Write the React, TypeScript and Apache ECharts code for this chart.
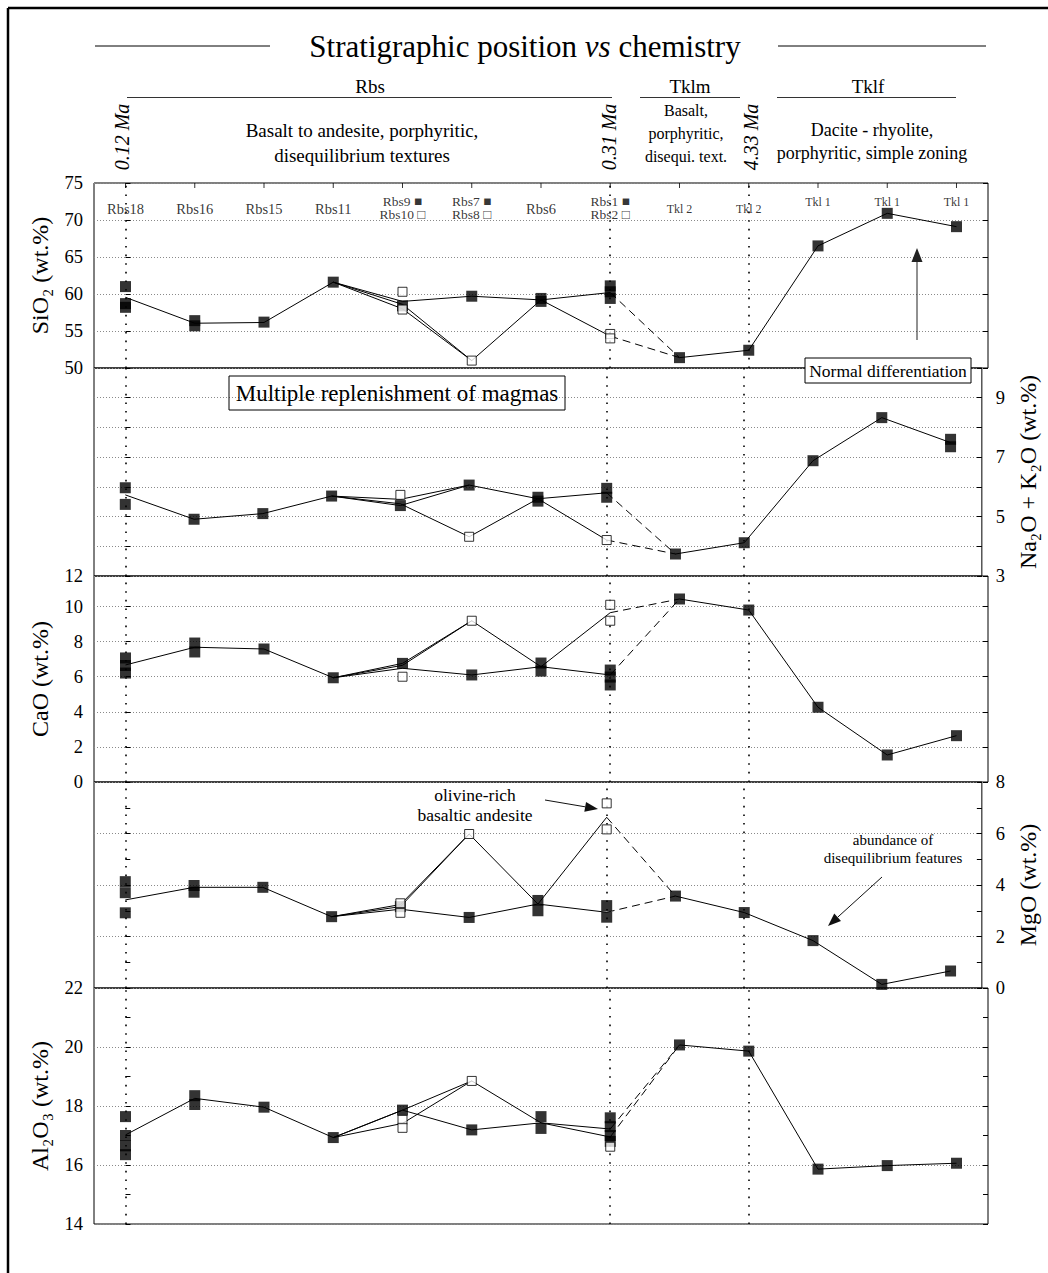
import React, { useEffect, useRef } from 'react';
import * as echarts from 'echarts';

// ---------- categories (stratigraphic order) ----------
const categories = ['Rbs18', 'Rbs16', 'Rbs15', 'Rbs11', 'Rbs9 ■\nRbs10 □', 'Rbs7 ■\nRbs8 □', 'Rbs6', 'Rbs1 ■\nRbs2 □', 'Tkl 2', 'Tkl 2', 'Tkl 1', 'Tkl 1', 'Tkl 1'];
const ageLineIdx = [0, 7, 9];

// ---------- SiO2 ----------
const sio2Filled = [[0, 61.0], [0, 58.7], [0, 58.2], [1, 56.4], [1, 55.7], [2, 56.2], [3, 61.6], [4, 58.4], [5, 59.7], [6, 59.4], [6, 59.0], [7, 61.1], [7, 60.3], [7, 59.4], [8, 51.4], [9, 52.4], [10, 66.5], [11, 70.9], [12, 69.1]];
const sio2Open = [[4, 60.3], [4, 57.9], [5, 51.0], [7, 54.6], [7, 54.0]];
const sio2Main = [[0, 59.55], [1, 56.05], [2, 56.15], [3, 61.6], [4, 59.0], [5, 59.7], [6, 59.2], [7, 60.2]];
const sio2Alt = [[3, 61.6], [4, 58.0], [5, 51.0], [6, 59.2], [7, 54.3]];
const sio2Cross = [[3, 61.6], [4, 58.6], [5, 51.0]];
const sio2Tkl = [[8, 51.4], [9, 52.4], [10, 66.5], [11, 70.9], [12, 69.1]];

// ---------- Na2O + K2O ----------
const alkFilled = [[0, 5.97], [0, 5.41], [1, 4.91], [2, 5.1], [3, 5.69], [4, 5.37], [5, 6.06], [6, 5.65], [6, 5.52], [7, 5.95], [7, 5.65], [8, 3.74], [9, 4.12], [10, 6.88], [11, 8.33], [12, 7.6], [12, 7.35]];
const alkOpen = [[4, 5.73], [5, 4.32], [7, 4.21]];
const alkMain = [[0, 5.73], [1, 4.91], [2, 5.1], [3, 5.69], [4, 5.58], [5, 6.06], [6, 5.6], [7, 5.8]];
const alkAlt = [[3, 5.69], [4, 5.43], [5, 4.32], [6, 5.6], [7, 4.21]];
const alkCross = [[3, 5.69], [4, 5.37], [5, 6.06]];
const alkTkl = [[8, 3.74], [9, 4.12], [10, 6.88], [11, 8.33], [12, 7.49]];

// ---------- CaO ----------
const caoFilled = [[0, 7.07], [0, 6.64], [0, 6.21], [1, 7.92], [1, 7.41], [2, 7.58], [3, 5.94], [4, 6.76], [5, 6.1], [6, 6.78], [6, 6.32], [7, 6.38], [7, 5.98], [7, 5.53], [8, 10.43], [9, 9.8], [10, 4.26], [11, 1.54], [12, 2.64]];
const caoOpen = [[4, 6.0], [5, 9.19], [7, 10.1], [7, 9.19]];
const caoMain = [[0, 6.67], [1, 7.68], [2, 7.58], [3, 5.94], [4, 6.48], [5, 6.1], [6, 6.57], [7, 6.1]];
const caoAlt = [[3, 5.94], [4, 6.65], [5, 9.19], [6, 6.57], [7, 9.65]];
const caoCross = [[3, 5.94], [4, 6.76], [5, 9.19]];
const caoTkl = [[8, 10.43], [9, 9.8], [10, 4.26], [11, 1.54], [12, 2.64]];

// ---------- MgO ----------
const mgoFilled = [[0, 4.13], [0, 3.7], [0, 2.92], [1, 3.98], [1, 3.72], [2, 3.91], [3, 2.77], [4, 3.16], [5, 2.74], [6, 3.4], [6, 3.0], [7, 3.2], [7, 2.75], [8, 3.57], [9, 2.93], [10, 1.84], [11, 0.14], [12, 0.66]];
const mgoOpen = [[4, 3.29], [4, 2.92], [5, 5.98], [7, 7.17], [7, 6.16]];
const mgoMain = [[0, 3.42], [1, 3.91], [2, 3.91], [3, 2.77], [4, 3.06], [5, 2.74], [6, 3.26], [7, 2.94]];
const mgoAlt = [[3, 2.77], [4, 3.16], [5, 5.98], [6, 3.26], [7, 6.63]];
const mgoCross = [[3, 2.77], [4, 3.24], [5, 5.98]];
const mgoTkl = [[8, 3.57], [9, 2.93], [10, 1.84], [11, 0.14], [12, 0.66]];

// ---------- Al2O3 ----------
const alFilled = [[0, 17.64], [0, 17.0], [0, 16.65], [0, 16.35], [1, 18.35], [1, 18.05], [2, 17.96], [3, 16.93], [4, 17.86], [5, 17.19], [6, 17.64], [6, 17.24], [7, 17.6], [7, 17.3], [7, 17.0], [7, 16.8], [8, 20.07], [9, 19.86], [10, 15.86], [11, 15.98], [12, 16.06]];
const alOpen = [[4, 17.53], [4, 17.26], [5, 18.85], [7, 16.62]];
const alMain = [[0, 17.02], [1, 18.26], [2, 17.96], [3, 16.93], [4, 17.86], [5, 17.19], [6, 17.43], [7, 17.22]];
const alAlt = [[3, 16.93], [4, 17.41], [5, 18.85], [6, 17.43], [7, 16.95]];
const alCross = [[3, 16.93], [4, 17.86], [5, 18.85]];
const alTkl = [[8, 20.07], [9, 19.86], [10, 15.86], [11, 15.98], [12, 16.06]];

// ---------- axis definitions ----------
const sio2Ticks = { min: 50, max: 75, interval: 5 };
const alkTicks = { min: 3, max: 10, interval: 1 };
const caoTicks = { min: 0, max: 11.74, interval: 2 };
const mgoTicks = { min: 0, max: 8, interval: 2 };
const alTicks = { min: 14, max: 22, interval: 2 };

const FONT = '"Liberation Serif", "Times New Roman", serif';

const panels = [
  { ticks: sio2Ticks, side: 'left', minor: false, name: 'SiO₂ (wt.%)', fmt: (v: number) => String(v), filled: sio2Filled, open: sio2Open, main: sio2Main, alt: sio2Alt, cross: sio2Cross, tkl: sio2Tkl },
  { ticks: alkTicks, side: 'right', minor: false, name: 'Na₂O + K₂O (wt.%)', fmt: (v: number) => (v % 2 === 1 && v < 10 ? String(v) : ''), filled: alkFilled, open: alkOpen, main: alkMain, alt: alkAlt, cross: alkCross, tkl: alkTkl },
  { ticks: caoTicks, side: 'left', minor: false, name: 'CaO (wt.%)', fmt: (v: number) => (v > 11 ? '12' : String(v)), filled: caoFilled, open: caoOpen, main: caoMain, alt: caoAlt, cross: caoCross, tkl: caoTkl },
  { ticks: mgoTicks, side: 'right', minor: true, name: 'MgO (wt.%)', fmt: (v: number) => String(v), filled: mgoFilled, open: mgoOpen, main: mgoMain, alt: mgoAlt, cross: mgoCross, tkl: mgoTkl },
  { ticks: alTicks, side: 'left', minor: true, name: 'Al₂O₃ (wt.%)', fmt: (v: number) => String(v), filled: alFilled, open: alOpen, main: alMain, alt: alAlt, cross: alCross, tkl: alTkl },
];

const gridBoxes = [
  { top: 183, height: 185 },
  { top: 368, height: 208 },
  { top: 576, height: 206 },
  { top: 782, height: 206 },
  { top: 988, height: 236 },
];

function arrow(x1: number, y1: number, x2: number, y2: number, head = 13, w = 5, color = '#111') {
  const a = Math.atan2(y2 - y1, x2 - x1);
  const bx = x2 - head * Math.cos(a);
  const by = y2 - head * Math.sin(a);
  const px = -Math.sin(a) * w;
  const py = Math.cos(a) * w;
  return [
    { type: 'line', z: 100, shape: { x1, y1, x2: bx, y2: by }, style: { stroke: color, lineWidth: 1 } },
    { type: 'polygon', z: 100, shape: { points: [[x2, y2], [bx + px, by + py], [bx - px, by - py]] }, style: { fill: color } },
  ];
}

function txt(text: string, x: number, y: number, size: number, extra: any = {}) {
  return {
    type: 'text', z: 100, x, y, rotation: extra.rotation || 0,
    style: { text, fill: '#000', fontSize: size, fontFamily: FONT, fontStyle: extra.italic ? 'italic' : 'normal', align: extra.align || 'center', verticalAlign: 'middle', lineHeight: extra.lineHeight },
  };
}

function labelFor(c: string) {
  if (c.includes('\n')) return { fontSize: 13.5, lineHeight: 12.5, offset: [0, 25] };
  if (c.startsWith('Tkl 1')) return { fontSize: 12, offset: [0, 19] };
  if (c.startsWith('Tkl')) return { fontSize: 12, offset: [0, 26] };
  return { fontSize: 14.5, offset: [0, 26] };
}

function buildOption() {
  const grid = gridBoxes.map((b) => ({ left: 94, width: 894, top: b.top, height: b.height, show: true, borderColor: '#000', borderWidth: 1, backgroundColor: 'transparent' }));
  const xAxis = gridBoxes.map((_, g) => ({ type: 'value', gridIndex: g, min: -0.455, max: 12.455, show: false }));
  const yAxis: any[] = [];
  panels.forEach((p, g) => {
    ['left', 'right'].forEach((pos) => {
      const labeled = pos === p.side;
      yAxis.push({
        type: 'value', gridIndex: g, position: pos, min: p.ticks.min, max: p.ticks.max, interval: p.ticks.interval,
        axisLine: { show: false },
        axisTick: { show: true, inside: true, length: 5, lineStyle: { color: '#000', width: 1 } },
        minorTick: { show: p.minor, splitNumber: 2, length: 5, lineStyle: { color: '#000', width: 1 } },
        axisLabel: { show: labeled, formatter: p.fmt, color: '#000', fontSize: 18.5, fontFamily: FONT, margin: pos === 'left' ? 11 : 14, showMinLabel: true, showMaxLabel: true },
        splitLine: { show: labeled, lineStyle: { color: '#8a8a8a', type: [1, 2], width: 1 } },
        name: labeled ? p.name : '',
        nameLocation: 'middle', nameRotate: 90, nameGap: pos === 'left' ? 42 : 32,
        nameTextStyle: { color: '#000', fontSize: 24, fontFamily: FONT },
      });
    });
  });

  const series: any[] = [];
  panels.forEach((p, g) => {
    const yi = g * 2 + (p.side === 'left' ? 0 : 1);
    const base = { xAxisIndex: g, yAxisIndex: yi, silent: true };
    const line = (data: number[][], dashed = false) => ({ ...base, type: 'line', data, symbol: 'none', z: 2, lineStyle: { color: '#000', width: 1, type: dashed ? [8, 5] : 'solid' } });
    series.push({
      ...line(p.main),
      markLine: { silent: true, symbol: 'none', label: { show: false }, lineStyle: { type: [1.6, 7], color: '#000', width: 1.6 }, data: ageLineIdx.map((i) => ({ xAxis: i })) },
    });
    series.push(line(p.alt));
    series.push(line(p.cross));
    series.push(line(p.tkl));
    series.push(line([p.main[p.main.length - 1], p.tkl[0]], true));
    series.push(line([p.alt[p.alt.length - 1], p.tkl[0]], true));
    series.push({ ...base, type: 'scatter', data: p.filled, symbol: 'rect', symbolSize: 11, itemStyle: { color: '#000' }, z: 4 });
    series.push({ ...base, type: 'scatter', data: p.open, symbol: 'rect', symbolSize: 9, itemStyle: { color: '#fff', borderColor: '#000', borderWidth: 1 }, z: 5 });
  });
  // category ticks on the top edge
  series.push({
    type: 'scatter', xAxisIndex: 0, yAxisIndex: 0, silent: true, z: 6,
    data: categories.map((_, i) => [i, sio2Ticks.max]),
    symbol: 'rect', symbolSize: [1, 5], symbolOffset: [0, 2.5], itemStyle: { color: '#000' },
  });
  // category labels
  series.push({
    type: 'scatter', xAxisIndex: 0, yAxisIndex: 0, silent: true, z: 6,
    symbol: 'rect', symbolSize: 1, itemStyle: { color: 'rgba(0,0,0,0)' },
    data: categories.map((c, i) => {
      const l = labelFor(c);
      return { value: [i, sio2Ticks.max], label: { show: true, position: 'inside', formatter: c, color: '#000', fontFamily: FONT, fontSize: l.fontSize, lineHeight: l.lineHeight, offset: l.offset } };
    }),
  });

  const graphic: any[] = [
    { type: 'line', z: 100, shape: { x1: 8, y1: 8, x2: 1048, y2: 8 }, style: { stroke: '#000', lineWidth: 2.5 } },
    { type: 'line', z: 100, shape: { x1: 8, y1: 8, x2: 8, y2: 1273 }, style: { stroke: '#000', lineWidth: 2.5 } },
    {
      type: 'text', z: 100, x: 525, y: 46,
      style: {
        text: '{n|Stratigraphic position }{i|vs}{n| chemistry}', align: 'center', verticalAlign: 'middle',
        rich: { n: { fontSize: 31, fontFamily: FONT, fill: '#000' }, i: { fontSize: 31, fontFamily: FONT, fontStyle: 'italic', fill: '#000' } },
      },
    },
    { type: 'line', z: 100, shape: { x1: 95, y1: 46, x2: 270, y2: 46 }, style: { stroke: '#000', lineWidth: 1 } },
    { type: 'line', z: 100, shape: { x1: 778, y1: 46, x2: 986, y2: 46 }, style: { stroke: '#000', lineWidth: 1 } },
    txt('Rbs', 370, 86, 19),
    txt('Tklm', 690, 86, 19),
    txt('Tklf', 868, 86, 19),
    { type: 'line', z: 100, shape: { x1: 127, y1: 97.5, x2: 612, y2: 97.5 }, style: { stroke: '#333', lineWidth: 1.2 } },
    { type: 'line', z: 100, shape: { x1: 640, y1: 97.5, x2: 740, y2: 97.5 }, style: { stroke: '#333', lineWidth: 1.2 } },
    { type: 'line', z: 100, shape: { x1: 777, y1: 97.5, x2: 956, y2: 97.5 }, style: { stroke: '#333', lineWidth: 1.2 } },
    txt('0.12 Ma', 122, 137, 20, { italic: true, rotation: Math.PI / 2 }),
    txt('0.31 Ma', 609, 137, 20, { italic: true, rotation: Math.PI / 2 }),
    txt('4.33 Ma', 751, 137, 20, { italic: true, rotation: Math.PI / 2 }),
    txt('Basalt to andesite, porphyritic,\ndisequilibrium textures', 362, 143, 19, { lineHeight: 25 }),
    txt('Basalt,\nporphyritic,\ndisequi. text.', 686, 133, 16, { lineHeight: 23 }),
    txt('Dacite - rhyolite,\nporphyritic, simple zoning', 872, 141, 18, { lineHeight: 23 }),
    { type: 'rect', z: 100, shape: { x: 229, y: 376, width: 336, height: 34 }, style: { fill: 'none', stroke: '#000', lineWidth: 1 } },
    txt('Multiple replenishment of magmas', 397, 393, 23),
    { type: 'rect', z: 100, shape: { x: 805, y: 358, width: 166, height: 25 }, style: { fill: '#fff', stroke: '#000', lineWidth: 1 } },
    txt('Normal differentiation', 888, 370.5, 17.5),
    ...arrow(917, 340, 917, 248, 14, 5.5, '#222'),
    txt('olivine-rich\nbasaltic andesite', 475, 805, 17.5, { lineHeight: 20 }),
    ...arrow(545, 800, 598, 809, 13, 5),
    txt('abundance of\ndisequilibrium features', 893, 849, 15, { lineHeight: 18 }),
    ...arrow(882, 877, 828, 926, 13, 5),
  ];

  return { animation: false, backgroundColor: '#fff', grid, xAxis, yAxis, series, graphic };
}

export default function App() {
  const ref = useRef<HTMLDivElement>(null);
  useEffect(() => {
    if (!ref.current) return;
    const chart = echarts.init(ref.current, undefined, { renderer: 'svg' });
    chart.setOption(buildOption() as any);
    return () => chart.dispose();
  }, []);
  return <div ref={ref} style={{ position: 'absolute', left: 0, top: 0, width: 1048, height: 1273, background: '#fff' }} />;
}
